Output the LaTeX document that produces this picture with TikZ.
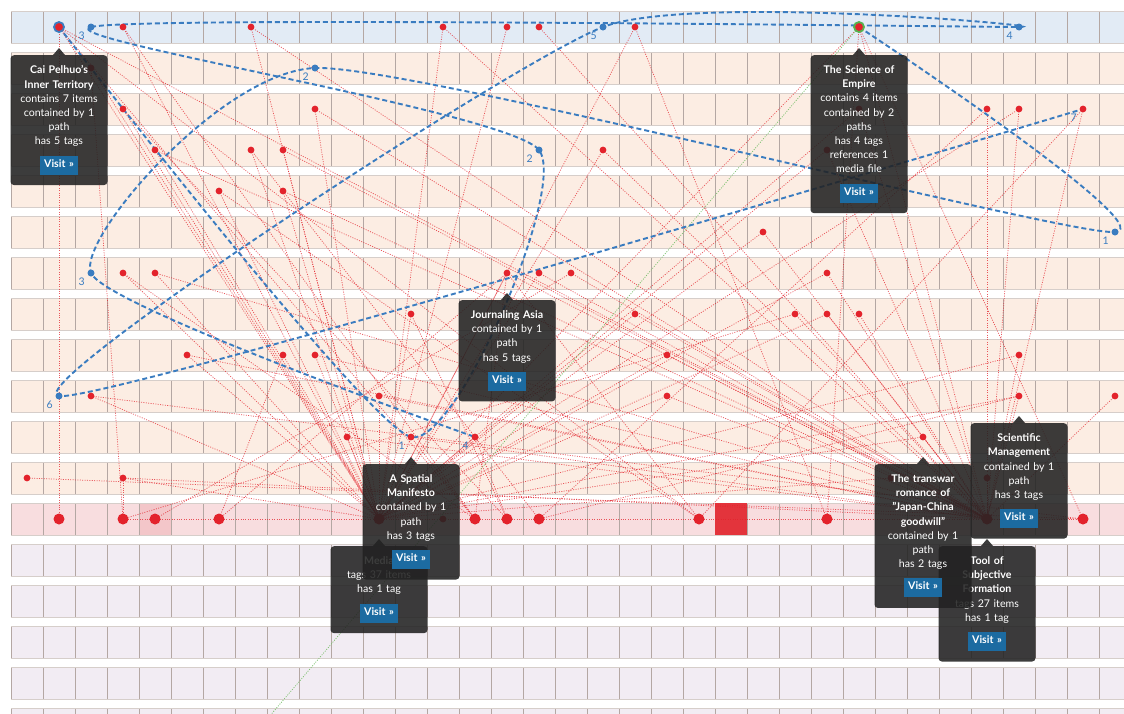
\documentclass[tikz,border=0pt]{standalone}
\usepackage{fontspec}
\setmainfont{Lato}
\usetikzlibrary{positioning}
\definecolor{RowBlue}{HTML}{E2EBF5}
\definecolor{RowPeach}{HTML}{FCEDE3}
\definecolor{RowPink}{HTML}{F8DDDF}
\definecolor{RowLilac}{HTML}{F2ECF3}
\definecolor{PinkDeep}{HTML}{F3C6C9}
\definecolor{CellLine}{HTML}{B4A7A3}
\definecolor{RowEdge}{HTML}{D6CECA}
\definecolor{TagRed}{HTML}{E3232C}
\definecolor{SquareRed}{HTML}{E3343C}
\definecolor{PathBlue}{HTML}{3A7CC0}
\definecolor{RingGreen}{HTML}{55B24F}
\definecolor{LinkGreen}{HTML}{7CC16E}
\definecolor{TipGray}{HTML}{222222}
\definecolor{VisitBlue}{HTML}{1C6BA1}

\newcommand{\visitbtn}{\colorbox{VisitBlue}{\kern1.5pt\rule[-4.5pt]{0pt}{13pt}\bfseries Visit »\kern1.5pt}}
% cells as column/row
\def\itemcells{3/0,7/0,13/0,15/0,16/0,19/0,2/1,3/2,9/2,26/2,30/2,31/2,33/2,4/3,7/3,8/3,18/3,25/3,6/4,8/4,23/5,3/6,4/6,15/6,16/6,17/6,25/6,12/7,19/7,24/7,25/7,26/7,5/8,8/8,9/8,20/8,31/8,2/9,11/9,20/9,31/9,34/9,10/10,12/10,14/10,28/10,0/11,3/11,27/11,30/11,13/12}
\def\stopcells{2/0,18/0,31/0,9/1,16/3,34/5,2/6,1/9}
\def\tagcols{1,3,4,6,11,14,15,16,21,25,30,33}

\begin{document}
\begin{tikzpicture}[x=1pt, y=-1pt,
  cellline/.style={CellLine, line width=0.8pt},
  rowedge/.style={RowEdge, line width=1pt},
  itemdot/.style={circle, fill=TagRed, minimum size=6.8pt, inner sep=0pt},
  tagdot/.style={circle, fill=TagRed, minimum size=11pt, inner sep=0pt},
  stopdot/.style={circle, fill=PathBlue, minimum size=7pt, inner sep=0pt},
  ringdot/.style={circle, fill=TagRed, line width=1.8pt, minimum size=10pt, inner sep=0pt},
  tagline/.style={TagRed, opacity=0.75, line width=0.75pt, dash pattern=on 1pt off 1.4pt},
  medialine/.style={LinkGreen, line width=0.75pt, dash pattern=on 1pt off 1.4pt},
  pathline/.style={PathBlue, line width=1.9pt, dash pattern=on 5pt off 3pt},
  stopnum/.style={text=PathBlue, font=\fontsize{10.5}{12}\selectfont, inner sep=0pt},
  tipbox/.style={fill=TipGray, fill opacity=0.88, text opacity=1, text=white, rounded corners=3.5pt,
    text width=85pt, inner xsep=6pt, inner ysep=10.5pt, align=center, font=\fontsize{10.6}{14.2}\selectfont},
  tipfill/.style={fill=TipGray, fill opacity=0.88}]

  \useasboundingbox (0,0) rectangle (1124,713);
  \clip (0,0) rectangle (1124,713);
  \fill[white] (0,0) rectangle (1124,713);

  % rows of cells
  \foreach \r in {0,...,17}{
    \ifnum\r=0 \def\rowfill{RowBlue}\else
      \ifnum\r<12 \def\rowfill{RowPeach}\else
        \ifnum\r=12 \def\rowfill{RowPink}\else \def\rowfill{RowLilac}\fi
      \fi
    \fi
    \fill[fill=\rowfill] (11,{11+41*\r}) rectangle (1131,{43+41*\r});
    \foreach \c in {0,...,35}
      \draw[cellline] ({11+32*\c},{11+41*\r}) -- ++(0,32);
    \draw[rowedge] (11,{11+41*\r}) -- (1131,{11+41*\r}) (11,{43+41*\r}) -- (1131,{43+41*\r});
  }
  \fill[PinkDeep] (139.5,503.5) rectangle (170.5,534.5);
  \fill[SquareRed] (715,503) rectangle (747,535);

  % positions
  \foreach \c/\r in \itemcells
    \coordinate (i\c-\r) at ({27+32*\c},{27+41*\r});
  \foreach \c/\r in \stopcells
    \coordinate (i\c-\r) at ({27+32*\c},{27+41*\r});
  \foreach \c in \tagcols
    \coordinate (tag\c) at ({27+32*\c},519);
  \coordinate (cai) at (59,27);
  \coordinate (soe) at (859,27);
  \coordinate (mediafile) at (262,725);

  % tag links
  \foreach \a/\b in {cai/tag1, cai/tag11, cai/tag14, cai/tag21, cai/tag30,
      soe/tag11, soe/tag25, soe/tag30, soe/tag33,
      i3-0/tag11, i3-0/tag14, i7-0/tag11, i7-0/tag30, i13-0/tag11, i13-0/tag30,
      i15-0/tag11, i16-0/tag30, i19-0/tag11, i19-0/tag25, i2-1/tag11, i2-1/tag3,
      i3-2/tag11, i3-2/tag15, i9-2/tag11, i9-2/tag30, i26-2/tag11, i26-2/tag30,
      i30-2/tag30, i30-2/tag16, i31-2/tag30, i31-2/tag11, i33-2/tag30, i33-2/tag21,
      i4-3/tag11, i4-3/tag30, i7-3/tag11, i7-3/tag16, i8-3/tag11, i8-3/tag30,
      i18-3/tag11, i18-3/tag30, i25-3/tag30, i25-3/tag11,
      i6-4/tag11, i6-4/tag21, i8-4/tag11, i8-4/tag30, i23-5/tag30, i23-5/tag11,
      i3-6/tag11, i3-6/tag14, i4-6/tag11, i4-6/tag30,
      i15-6/tag11, i15-6/tag30, i15-6/tag14, i15-6/tag21, i15-6/tag6,
      i16-6/tag11, i16-6/tag30, i17-6/tag30, i17-6/tag4, i25-6/tag30, i25-6/tag11,
      i12-7/tag11, i12-7/tag15, i19-7/tag11, i19-7/tag30, i24-7/tag30, i24-7/tag3,
      i25-7/tag30, i25-7/tag11, i26-7/tag30,
      i5-8/tag11, i5-8/tag30, i8-8/tag11, i8-8/tag6, i9-8/tag11, i9-8/tag30,
      i20-8/tag11, i20-8/tag30, i31-8/tag30, i31-8/tag11,
      i2-9/tag11, i2-9/tag33, i11-9/tag11, i11-9/tag30, i20-9/tag30, i20-9/tag11,
      i31-9/tag30, i31-9/tag11, i31-9/tag16, i34-9/tag30,
      i10-10/tag11, i10-10/tag30, i12-10/tag11, i12-10/tag30, i12-10/tag14,
      i14-10/tag11, i14-10/tag15, i28-10/tag30, i28-10/tag11,
      i0-11/tag33, i3-11/tag11, i3-11/tag3, i3-11/tag30, i27-11/tag30, i27-11/tag11, i30-11/tag30,
      tag3/tag4, tag4/tag6, tag6/tag11, tag11/i13-12, i13-12/tag14, tag14/tag15, tag15/tag16,
      tag16/tag21, tag21/tag25, tag25/tag30, tag30/tag33}{
    \draw[tagline] (\a) -- (\b);
  }
  \draw[medialine] (soe) -- (mediafile);

  % the two paths
  \draw[pathline] plot[smooth, tension=0.33] coordinates {(cai) (i12-10) (i16-3) (i2-0) (i31-0) (i18-0) (i1-9) (i33-2)};
  \draw[pathline] plot[smooth, tension=0.33] coordinates {(soe) (i34-5) (i9-1) (i2-6) (i14-10)};

  % dots
  \foreach \c/\r in \itemcells
    \node[itemdot] (dot\c-\r) at (i\c-\r) {};
  \foreach \c/\r in \stopcells
    \node[stopdot] (dot\c-\r) at (i\c-\r) {};
  \foreach \c in \tagcols
    \node[tagdot] (tagdot\c) at (tag\c) {};
  \node[ringdot, draw=PathBlue] (caidot) at (cai) {};
  \node[ringdot, draw=RingGreen] (soedot) at (soe) {};

  % stop numbers
  \foreach \s/\n in {i12-10/1, i16-3/2, i2-0/3, i31-0/4, i18-0/5, i1-9/6, i33-2/7}
    \node[stopnum, below left=5pt and 6pt of \s] (cainum\n) {\n};
  \foreach \s/\n in {i34-5/1, i9-1/2, i2-6/3, i14-10/4}
    \node[stopnum, below left=5pt and 6pt of \s] (soenum\n) {\n};

  % tooltips
  \node[tipbox, below=28pt of cai] (caitip) {\textbf{Cai Pelhuo's}\\ \textbf{Inner Territory}\\ contains 7 items\\ contained by 1\\ path\\ has 5 tags\\[8pt] \visitbtn};
  \fill[tipfill] ([xshift=-6pt]caitip.north) -- ([yshift=7pt]caitip.north) -- ([xshift=6pt]caitip.north) -- cycle;

  \node[tipbox, below=28pt of soe] (soetip) {\textbf{The Science of}\\ \textbf{Empire}\\ contains 4 items\\ contained by 2\\ paths\\ has 4 tags\\ references 1\\ media file\\[8pt] \visitbtn};
  \fill[tipfill] ([xshift=-6pt]soetip.north) -- ([yshift=7pt]soetip.north) -- ([xshift=6pt]soetip.north) -- cycle;

  \node[tipbox, below=27pt of i15-6] (asiatip) {\textbf{Journaling Asia}\\ contained by 1\\ path\\ has 5 tags\\[8pt] \visitbtn};
  \fill[tipfill] ([xshift=-6pt]asiatip.north) -- ([yshift=7pt]asiatip.north) -- ([xshift=6pt]asiatip.north) -- cycle;

  \node[tipbox, below=27pt of tag11] (mediatip) {\textbf{Media}\\ tags 37 items\\ has 1 tag\\[8pt] \visitbtn};
  \fill[tipfill] ([xshift=-6pt]mediatip.north) -- ([yshift=7pt]mediatip.north) -- ([xshift=6pt]mediatip.north) -- cycle;

  \node[tipbox, below=27pt of i12-10] (spatialtip) {\textbf{A Spatial}\\ \textbf{Manifesto}\\ contained by 1\\ path\\ has 3 tags\\[8pt] \visitbtn};
  \fill[tipfill] ([xshift=-6pt]spatialtip.north) -- ([yshift=7pt]spatialtip.north) -- ([xshift=6pt]spatialtip.north) -- cycle;

  \node[tipbox, below=27pt of i31-9] (scimgmttip) {\textbf{Scientific}\\ \textbf{Management}\\ contained by 1\\ path\\ has 3 tags\\[8pt] \visitbtn};
  \fill[tipfill] ([xshift=-6pt]scimgmttip.north) -- ([yshift=7pt]scimgmttip.north) -- ([xshift=6pt]scimgmttip.north) -- cycle;

  \node[tipbox, below=27pt of tag30] (tooltip) {\textbf{Tool of}\\ \textbf{Subjective}\\ \textbf{Formation}\\ tags 27 items\\ has 1 tag\\[8pt] \visitbtn};
  \fill[tipfill] ([xshift=-6pt]tooltip.north) -- ([yshift=7pt]tooltip.north) -- ([xshift=6pt]tooltip.north) -- cycle;

  \node[tipbox, below=27pt of i28-10] (transwartip) {\textbf{The transwar}\\ \textbf{romance of}\\ \textbf{"Japan-China}\\ \textbf{goodwill"}\\ contained by 1\\ path\\ has 2 tags\\[8pt] \visitbtn};
  \fill[tipfill] ([xshift=-6pt]transwartip.north) -- ([yshift=7pt]transwartip.north) -- ([xshift=6pt]transwartip.north) -- cycle;
\end{tikzpicture}
\end{document}
